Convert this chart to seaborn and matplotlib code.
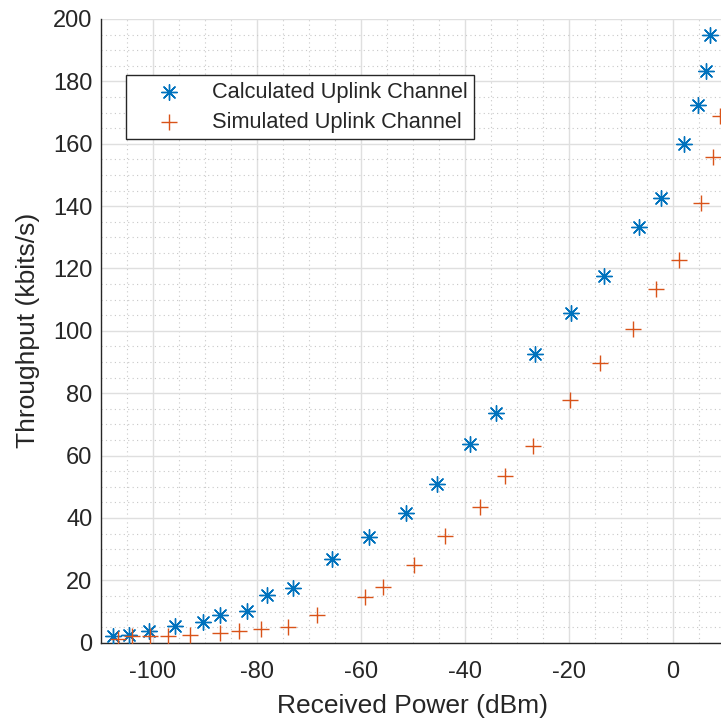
import numpy as np
import pandas as pd
import seaborn as sns
import matplotlib.pyplot as plt
from matplotlib.ticker import MultipleLocator

# Calculated uplink channel
x_calc = [-107.7, -104.5, -100.8, -95.8, -90.4, -87.0, -81.8, -78.0, -73.0, -65.5,
          -58.5, -51.2, -45.3, -38.9, -33.9, -26.5, -19.6, -13.3, -6.4, -2.3,
          2.1, 4.9, 6.4, 7.1]
y_calc = [2.2, 2.5, 3.6, 5.5, 6.5, 9.0, 10.3, 15.3, 17.4, 26.9,
          33.9, 41.5, 51.0, 63.7, 73.6, 92.7, 105.8, 117.7, 133.3, 142.5,
          159.8, 172.3, 183.3, 195.0]

# Simulated uplink channel
x_sim = [-106.7, -104.0, -100.5, -97.1, -92.8, -87.1, -83.4, -79.1, -74.0, -68.4,
         -59.2, -55.8, -49.8, -43.7, -37.1, -32.3, -26.9, -19.8, -13.9, -7.6,
         -3.3, 1.2, 5.5, 7.8, 9.0]
y_sim = [1.2, 2.2, 2.0, 2.0, 2.5, 3.1, 3.6, 4.5, 4.9, 8.9,
         14.5, 18.0, 24.8, 34.1, 43.5, 53.3, 63.1, 77.7, 89.6, 100.5,
         113.4, 122.7, 140.9, 155.9, 168.9]

labels = ["Calculated Uplink Channel", "Simulated Uplink Channel"]

sns.set_style("white")
plt.rcParams['font.family'] = ['Liberation Sans', 'DejaVu Sans']
plt.rcParams['axes.unicode_minus'] = False

fig = plt.figure(figsize=(7.21, 7.2), dpi=100)
ax = fig.add_axes([100.7 / 721, 77.3 / 720, 624 / 721, 623.7 / 720])

df_calc = pd.DataFrame({"x": x_calc, "y": y_calc})
df_sim = pd.DataFrame({"x": x_sim, "y": y_sim})

sns.scatterplot(data=df_calc, x="x", y="y", marker=(8, 2, 0), s=125,
                color="#0072BD", linewidth=1.0, label=labels[0], ax=ax, zorder=3)
sns.scatterplot(data=df_sim, x="x", y="y", marker="+", s=140,
                color="#D95319", linewidth=1.0, label=labels[1], ax=ax, zorder=3)

ax.set_xlim(-110, 10)
ax.set_ylim(0, 200)
ax.xaxis.set_major_locator(MultipleLocator(20))
ax.yaxis.set_major_locator(MultipleLocator(20))
ax.xaxis.set_minor_locator(MultipleLocator(5))
ax.yaxis.set_minor_locator(MultipleLocator(5))

ax.grid(True, which="major", color="#dfdfdf", linewidth=1.0, linestyle="-")
ax.grid(True, which="minor", color="#c8c8c8", linewidth=0.8, linestyle=(0, (1, 3)))
ax.set_axisbelow(True)

for s in ["top", "right"]:
    ax.spines[s].set_visible(False)
for s in ["left", "bottom"]:
    ax.spines[s].set_color("#262626")
    ax.spines[s].set_linewidth(1.0)

ax.tick_params(which="major", direction="in", length=6, width=1.0, color="#262626",
               labelsize=17, labelcolor="#262626")
ax.tick_params(axis="x", which="major", pad=13)
ax.tick_params(axis="y", which="major", pad=6)
ax.tick_params(which="minor", length=0)

ax.set_xlabel("Received Power (dBm)", fontsize=19, color="#262626", labelpad=8)
ax.set_ylabel("Throughput (kbits/s)", fontsize=19, color="#262626", labelpad=9)

leg = ax.legend(loc="upper left", bbox_to_anchor=(125.7 / 721, 645 / 720),
                bbox_transform=fig.transFigure, fontsize=15.7, frameon=True,
                fancybox=False, edgecolor="#262626", framealpha=1,
                borderaxespad=0, handletextpad=0.3, borderpad=0.3,
                handlelength=3.35, labelspacing=0.42)
leg.get_frame().set_linewidth(1.0)

fig.savefig("out.png", dpi=100)
